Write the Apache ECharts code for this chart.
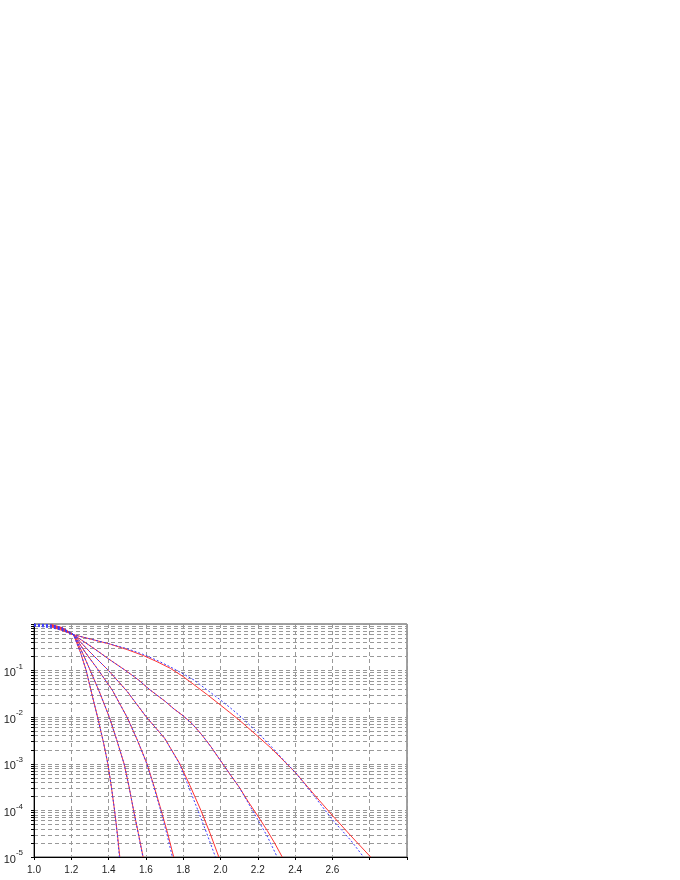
<!DOCTYPE html>
<html><head><meta charset="utf-8">
<script src="https://cdn.jsdelivr.net/npm/echarts@6/dist/echarts.min.js"></script>
<style>html,body{margin:0;padding:0;background:#fff}#c{width:680px;height:880px}</style>
</head><body><div id="c"></div>
<script>
// tick labels
const xTickLabels = ['1.0','1.2','1.4','1.6','1.8','2.0','2.2','2.4','2.6'];
const yLabelValues = [1e-5, 1e-4, 1e-3, 1e-2, 1e-1];
const yGridValues = [
  1e-5,2e-5,3e-5,4e-5,5e-5,6e-5,7e-5,8e-5,9e-5,
  1e-4,2e-4,3e-4,4e-4,5e-4,6e-4,7e-4,8e-4,9e-4,
  1e-3,2e-3,3e-3,4e-3,5e-3,6e-3,7e-3,8e-3,9e-3,
  1e-2,2e-2,3e-2,4e-2,5e-2,6e-2,7e-2,8e-2,9e-2,
  1e-1,2e-1,3e-1,4e-1,5e-1,6e-1,7e-1,8e-1,9e-1,1
];

// red solid curves [x, probability]
const red1 = [[1.09,0.977],[1.15,0.84],[1.212,0.589],[1.25,0.24],[1.28,0.1],[1.31,0.0316],[1.341,0.01],[1.373,2.82e-3],[1.396,1e-3],[1.415,3.16e-4],[1.432,1e-4],[1.447,3.16e-5],[1.46,1e-5]];
const red2 = [[1.09,0.966],[1.15,0.82],[1.212,0.589],[1.26,0.24],[1.302,0.1],[1.35,0.0355],[1.404,0.01],[1.443,3.31e-3],[1.483,1e-3],[1.51,3.16e-4],[1.534,1e-4],[1.56,3.16e-5],[1.585,1e-5]];
const red3 = [[1.09,0.955],[1.15,0.8],[1.212,0.589],[1.27,0.263],[1.338,0.112],[1.42,0.038],[1.499,0.01],[1.553,3.31e-3],[1.606,1e-3],[1.645,3.16e-4],[1.682,1e-4],[1.717,3.16e-5],[1.749,1e-5]];
const red4 = [[1.09,0.933],[1.15,0.78],[1.212,0.589],[1.30,0.251],[1.40,0.1],[1.50,0.0355],[1.603,0.01],[1.70,3.55e-3],[1.782,1e-3],[1.84,3.16e-4],[1.895,1e-4],[1.945,3.16e-5],[1.991,1e-5]];
const red5 = [[1.09,0.912],[1.15,0.76],[1.212,0.589],[1.32,0.302],[1.40,0.178],[1.499,0.0955],[1.56,0.0631],[1.624,0.038],[1.70,0.0224],[1.75,0.0151],[1.80,0.0107],[1.85,7.08e-3],[1.90,4.17e-3],[1.95,2.29e-3],[2.0,1.17e-3],[2.05,6.03e-4],[2.10,3.16e-4],[2.15,1.51e-4],[2.2,7.59e-5],[2.25,3.72e-5],[2.29,2.0e-5],[2.331,1e-5]];
const red6 = [[1.09,0.871],[1.15,0.73],[1.212,0.589],[1.3,0.479],[1.41,0.368],[1.5,0.282],[1.588,0.209],[1.66,0.155],[1.731,0.112],[1.8,0.0741],[1.857,0.0501],[1.93,0.0302],[2.0,0.0182],[2.05,0.0126],[2.1,8.71e-3],[2.2,3.89e-3],[2.27,2.19e-3],[2.35,1.05e-3],[2.403,6.4e-4],[2.5,2.24e-4],[2.607,7.24e-5],[2.7,2.82e-5],[2.805,1e-5]];

// blue dotted curves [x, probability]
const blue1 = [[1.0,0.995],[1.05,0.985],[1.1,0.95],[1.15,0.84],[1.212,0.589],[1.25,0.24],[1.28,0.1],[1.31,0.0316],[1.341,0.01],[1.373,2.82e-3],[1.396,1e-3],[1.415,3.16e-4],[1.432,1e-4],[1.446,3.16e-5],[1.458,1e-5]];
const blue2 = [[1.0,0.985],[1.05,0.97],[1.1,0.93],[1.15,0.82],[1.212,0.589],[1.26,0.24],[1.302,0.1],[1.35,0.0355],[1.404,0.01],[1.443,3.31e-3],[1.483,1e-3],[1.51,3.16e-4],[1.534,1e-4],[1.559,3.16e-5],[1.584,1e-5]];
const blue3 = [[1.0,0.97],[1.05,0.95],[1.1,0.91],[1.15,0.8],[1.212,0.589],[1.27,0.263],[1.338,0.112],[1.42,0.038],[1.499,0.01],[1.553,3.31e-3],[1.605,1e-3],[1.643,3.16e-4],[1.679,1e-4],[1.712,3.16e-5],[1.742,1e-5]];
const blue4 = [[1.0,0.95],[1.05,0.93],[1.1,0.88],[1.15,0.78],[1.212,0.589],[1.30,0.251],[1.40,0.1],[1.50,0.0355],[1.603,0.01],[1.70,3.55e-3],[1.78,1e-3],[1.83,3.16e-4],[1.879,1e-4],[1.927,3.16e-5],[1.973,1e-5]];
const blue5 = [[1.0,0.93],[1.05,0.9],[1.1,0.85],[1.15,0.76],[1.212,0.589],[1.32,0.302],[1.40,0.178],[1.499,0.0955],[1.56,0.0631],[1.624,0.038],[1.70,0.0224],[1.75,0.0151],[1.80,0.0107],[1.85,7.08e-3],[1.90,4.17e-3],[1.95,2.29e-3],[2.0,1.17e-3],[2.05,6.03e-4],[2.10,3.16e-4],[2.15,1.41e-4],[2.2,6.31e-5],[2.25,2.82e-5],[2.304,1e-5]];
const blue6 = [[1.0,0.9],[1.05,0.87],[1.1,0.82],[1.15,0.73],[1.212,0.589],[1.3,0.479],[1.41,0.37],[1.5,0.295],[1.588,0.221],[1.66,0.166],[1.731,0.12],[1.8,0.0851],[1.857,0.0631],[1.93,0.038],[2.0,0.0234],[2.05,0.0162],[2.1,0.011],[2.2,4.68e-3],[2.27,2.4e-3],[2.35,1.07e-3],[2.403,6.46e-4],[2.5,2.09e-4],[2.6,6.31e-5],[2.7,2.24e-5],[2.767,1e-5]];

const reds = [red1, red2, red3, red4, red5, red6];
const blues = [blue1, blue2, blue3, blue4, blue5, blue6];

const FONT = 'Liberation Sans, Arial, sans-serif';
const series = [];
reds.forEach((d, i) => series.push({
  name: 'sim' + (i + 1), type: 'line', data: d, showSymbol: false, symbol: 'none',
  lineStyle: { color: '#ff3333', width: 1 }, z: 2, silent: true
}));
blues.forEach((d, i) => series.push({
  name: 'model' + (i + 1), type: 'line', data: d, showSymbol: false, symbol: 'none',
  lineStyle: { color: '#3a3aff', width: 1, type: [2, 2] }, z: 3, silent: true
}));

const chart = echarts.init(document.getElementById('c'), null, { renderer: 'canvas' });
chart.setOption({
  animation: false,
  backgroundColor: '#fff',
  grid: { left: 34, right: 273, top: 624, bottom: 23, show: true, borderColor: '#444', borderWidth: 1, backgroundColor: 'transparent' },
  xAxis: {
    type: 'value', min: 1, max: 3, interval: 0.2,
    axisLine: { show: true, onZero: false, lineStyle: { color: '#000', width: 1 } },
    axisTick: { show: true, inside: false, length: 3, lineStyle: { color: '#000' } },
    axisLabel: {
      fontSize: 10, color: '#222', margin: 8, fontFamily: FONT, showMinLabel: true, showMaxLabel: true,
      formatter: v => { const s = v.toFixed(1); return xTickLabels.indexOf(s) >= 0 ? s : ''; }
    },
    splitLine: { show: true, lineStyle: { color: '#999', width: 1, type: [4, 3] } }
  },
  yAxis: {
    type: 'log', logBase: 10, min: 1e-5, max: 1,
    axisLine: { show: true, lineStyle: { color: '#000', width: 1 } },
    axisTick: { show: true, inside: false, length: 3, customValues: yGridValues, lineStyle: { color: '#000' } },
    axisLabel: {
      customValues: yLabelValues, margin: 11, color: '#222', fontFamily: FONT,
      formatter: v => '{b|10}{s|' + Math.round(Math.log10(v)) + '}',
      rich: {
        b: { fontSize: 11, fontFamily: FONT, color: '#222', verticalAlign: 'bottom', lineHeight: 16 },
        s: { fontSize: 8, fontFamily: FONT, color: '#222', verticalAlign: 'top', lineHeight: 10 }
      }
    },
    splitLine: { show: true, lineStyle: { color: '#999', width: 1, type: [4, 3] } },
    minorTick: { show: false }, minorSplitLine: { show: false }
  },
  series: series
});
</script></body></html>
